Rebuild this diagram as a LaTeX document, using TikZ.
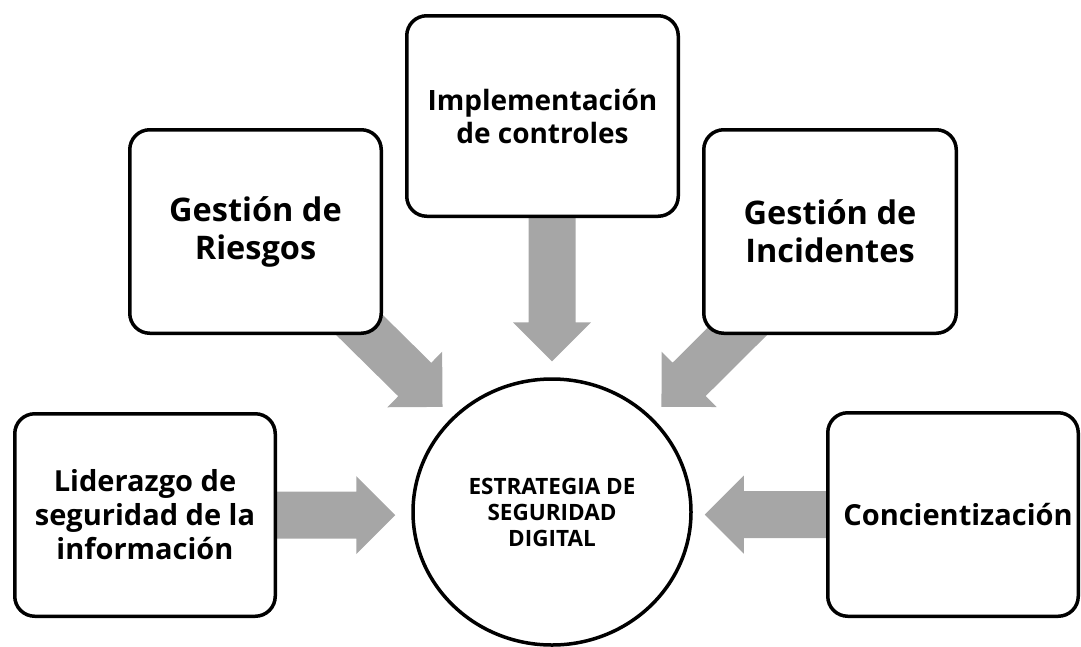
\documentclass[tikz,border=0pt]{standalone}
\usepackage{fontspec}
\setmainfont{Open Sans}
\usetikzlibrary{calc,shapes.geometric,backgrounds}
\definecolor{arrowgray}{RGB}{166,166,166}

\begin{document}
\begin{tikzpicture}[x=1pt,y=-1pt,
  box/.style={draw, line width=3.5pt, rounded corners=20pt, fill=white, align=center, inner sep=0pt},
  bigtext/.style={font=\fontsize{32.5}{38}\selectfont\bfseries},
  midtext/.style={font=\fontsize{29}{34}\selectfont\bfseries},
  blockarrow/.style={fill=arrowgray, to path={
    ($(\tikztostart)!23.5pt!90:(\tikztotarget)$)
    -- ($(\tikztotarget)!39pt!(\tikztostart)!23.5pt!90:(\tikztotarget)$)
    -- ($(\tikztotarget)!39pt!(\tikztostart)!39pt!90:(\tikztotarget)$)
    -- (\tikztotarget)
    -- ($(\tikztotarget)!39pt!(\tikztostart)!39pt!-90:(\tikztotarget)$)
    -- ($(\tikztotarget)!39pt!(\tikztostart)!23.5pt!-90:(\tikztotarget)$)
    -- ($(\tikztostart)!23.5pt!-90:(\tikztotarget)$) -- cycle}}]
\useasboundingbox (0,0) rectangle (1081,646);

\node [box, bigtext, minimum width=251.5pt, minimum height=203.5pt] (riesgos) at (255.5,231.5) {Gestión de\\Riesgos};
\node [box, font=\fontsize{28}{33}\selectfont\bfseries, minimum width=271.5pt, minimum height=200.5pt] (controles) at (542.5,116) {Implementación\\de controles};
\node [box, bigtext, minimum width=252.5pt, minimum height=203.5pt] (incidentes) at (830,231.5) {Gestión de\\Incidentes};
\node [box, midtext, minimum width=260.5pt, minimum height=202.5pt] (liderazgo) at (145,515) {Liderazgo de\\seguridad de la\\información};
\node [box, midtext, minimum width=250.5pt, minimum height=203.5pt] (concienc) at (953,514.5) {\hspace*{10pt}Concientización};
\node [ellipse, draw, line width=3.5pt, fill=white, inner sep=0pt, minimum width=278pt, minimum height=266pt, align=center,
  font=\fontsize{22.5}{26}\selectfont\bfseries] (hub) at (552,512) {ESTRATEGIA DE\\SEGURIDAD\\DIGITAL};

\coordinate (rtail) at (320,286);
\coordinate (itail) at (783,286);
\coordinate (rtip) at ($(hub.north west)!14pt!(rtail)$);
\coordinate (itip) at ($(hub.north east)!14pt!(itail)$);
\coordinate (ctip) at ($(hub.north)+(0,-16)$);
\coordinate (ltip) at ($(liderazgo.east -| hub.west)+(-16,0)$);
\coordinate (ktip) at ($(concienc.west -| hub.east)+(12,0)$);

\begin{scope}[on background layer]
\fill [blockarrow] (rtail) to (rtip);
\fill [blockarrow] (itail) to (itip);
\fill [blockarrow] (hub.north |- controles.south) to (ctip);
\fill [blockarrow] (liderazgo.east) to (ltip);
\fill [blockarrow] (concienc.west) to (ktip);
\end{scope}
\end{tikzpicture}
\end{document}
